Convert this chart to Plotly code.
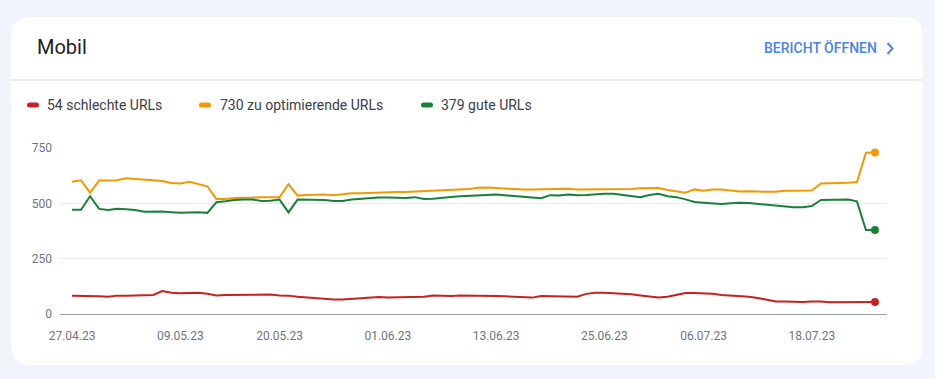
import pandas as pd
import plotly.graph_objects as go

# ---------------- data ----------------
start_date = "2023-04-27"
n_days = 90

bad_urls = [83, 83, 83, 80, 78, 83, 83, 84, 86, 86, 104, 96, 94, 96, 96, 91, 84, 86, 86, 86,
            88, 89, 88, 84, 83, 78, 74, 72, 68, 65, 65, 68, 72, 72, 77, 75, 75, 77, 78, 78,
            84, 81, 81, 84, 84, 84, 83, 81, 80, 78, 75, 74, 81, 81, 80, 78, 78, 91, 96, 96,
            94, 89, 89, 84, 80, 75, 78, 86, 95, 95, 94, 91, 86, 84, 83, 78, 72, 65, 57, 56,
            54, 54, 57, 57, 53, 53, 51, 51, 54, 54]

improve_urls = [597, 604, 548, 603, 603, 604, 613, 610, 606, 603, 601, 592, 590, 597, 588, 577,
                520, 520, 524, 524, 526, 528, 527, 528, 587, 535, 538, 540, 540, 537, 542, 545,
                546, 548, 550, 551, 551, 551, 553, 555, 558, 559, 561, 562, 565, 570, 572, 569,
                566, 563, 562, 562, 563, 566, 566, 566, 563, 563, 562, 565, 562, 562, 565, 568,
                568, 569, 560, 555, 548, 563, 557, 562, 562, 558, 553, 555, 552, 552, 552, 557,
                557, 558, 558, 590, 590, 591, 593, 596, 729, 730]

good_urls = [471, 471, 532, 475, 470, 476, 473, 470, 462, 463, 463, 460, 457, 459, 460, 457,
             505, 509, 515, 517, 517, 511, 512, 517, 459, 517, 517, 517, 515, 511, 511, 517,
             521, 524, 526, 526, 526, 524, 528, 520, 521, 526, 529, 532, 535, 536, 538, 540,
             537, 532, 529, 529, 523, 537, 535, 540, 537, 538, 541, 543, 543, 538, 534, 528,
             538, 543, 532, 528, 518, 506, 503, 500, 497, 500, 503, 501, 497, 491, 488, 485,
             482, 482, 488, 515, 515, 515, 517, 509, 379, 379]

series_names = ["54 schlechte URLs", "730 zu optimierende URLs", "379 gute URLs"]
series_colors = ["#c5221f", "#f29900", "#188038"]

x_tick_dates = ["2023-04-27", "2023-05-09", "2023-05-20", "2023-06-01",
                "2023-06-13", "2023-06-25", "2023-07-06", "2023-07-18"]
x_tick_labels = ["27.04.23", "09.05.23", "20.05.23", "01.06.23",
                 "13.06.23", "25.06.23", "06.07.23", "18.07.23"]
y_tick_values = [0, 250, 500, 750]

dates = pd.date_range(start_date, periods=n_days, freq="D")

# ---------------- geometry helpers (pixel -> paper) ----------------
W, H = 935, 379
PL, PR, PT, PB = 60, 887, 148, 314
PW, PH = PR - PL, PB - PT


def fx(x):
    return (x - PL) / PW


def fy(y):
    return (PB - y) / PH


def rounded_rect(x0, y0, x1, y1, r):
    pts = [
        ("M", (x0 + r, y0)), ("L", (x1 - r, y0)), ("Q", (x1, y0), (x1, y0 + r)),
        ("L", (x1, y1 - r)), ("Q", (x1, y1), (x1 - r, y1)), ("L", (x0 + r, y1)),
        ("Q", (x0, y1), (x0, y1 - r)), ("L", (x0, y0 + r)), ("Q", (x0, y0), (x0 + r, y0)),
    ]
    s = ""
    for p in pts:
        cmd = p[0]
        coords = " ".join(f"{fx(a):.5f},{fy(b):.5f}" for a, b in p[1:])
        s += f"{cmd} {coords} "
    return s + "Z"


fig = go.Figure()

series_values = [bad_urls, improve_urls, good_urls]
for name, vals, col in zip(series_names, series_values, series_colors):
    fig.add_trace(go.Scatter(
        x=dates, y=vals, name=name, mode="lines",
        line=dict(color=col, width=2),
        showlegend=False, hoverinfo="skip",
    ))
for name, vals, col in zip(series_names, series_values, series_colors):
    fig.add_trace(go.Scatter(
        x=[dates[-1]], y=[vals[-1]], name=name, mode="markers",
        marker=dict(color=col, size=8, opacity=1, line=dict(width=0)),
        showlegend=False, hoverinfo="skip",
    ))

shapes = []
# card
shapes.append(dict(type="path", xref="paper", yref="paper", layer="below",
                   path=rounded_rect(11, 17, 923, 365, 20),
                   fillcolor="#ffffff", line=dict(width=0)))
# separator
shapes.append(dict(type="line", xref="paper", yref="paper", layer="below",
                   x0=fx(11), x1=fx(923), y0=fy(80), y1=fy(80),
                   line=dict(color="#dadce0", width=1)))
# chevron
shapes.append(dict(type="path", xref="paper", yref="paper",
                   path=f"M {fx(887.5)},{fy(43)} L {fx(892.5)},{fy(48.5)} L {fx(887.5)},{fy(54)}",
                   line=dict(color="#4a84e9", width=2)))

annotations = [
    dict(text="Mobil", x=fx(35), y=fy(47), xref="paper", yref="paper",
         xanchor="left", yanchor="middle", showarrow=False,
         font=dict(family="Roboto", size=20, color="#202124")),
    dict(text="BERICHT ÖFFNEN", x=fx(879), y=fy(48), xref="paper", yref="paper",
         xanchor="right", yanchor="middle", showarrow=False,
         font=dict(family="Roboto", size=14, color="#4a84e9", weight=500)),
]

legend_dash_x = [27, 199, 421]
legend_text_x = [45, 218, 439]
legend_y = 105
for name, col, dx, tx in zip(series_names, series_colors, legend_dash_x, legend_text_x):
    shapes.append(dict(type="path", xref="paper", yref="paper",
                       path=rounded_rect(dx, legend_y - 2.5, dx + 12, legend_y + 2.5, 2.5),
                       fillcolor=col, line=dict(width=0)))
    annotations.append(dict(text=name, x=fx(tx), y=fy(legend_y), xref="paper", yref="paper",
                            xanchor="left", yanchor="middle", showarrow=False,
                            font=dict(family="Roboto", size=14, color="#3c4043")))

pad = pd.Timedelta(hours=32)
fig.update_layout(
    width=W, height=H,
    margin=dict(l=PL, r=W - PR, t=PT, b=H - PB, pad=0),
    paper_bgcolor="#f0f4fb",
    plot_bgcolor="rgba(0,0,0,0)",
    font=dict(family="Roboto", size=12, color="#70757a"),
    shapes=shapes,
    annotations=annotations,
    showlegend=False,
    xaxis=dict(
        type="date",
        range=[dates[0] - pad, dates[-1] + pad],
        tickvals=x_tick_dates, ticktext=x_tick_labels,
        showgrid=False, zeroline=False,
        showline=True, linecolor="#9aa0a6", linewidth=1,
        ticks="", ticklabelstandoff=11,
        tickfont=dict(family="Roboto", size=12, color="#70757a"),
        fixedrange=True,
    ),
    yaxis=dict(
        range=[0, 750],
        tickvals=y_tick_values,
        showgrid=True, gridcolor="#e8eaed", gridwidth=1,
        zeroline=False, showline=False,
        ticks="", ticklabelstandoff=7,
        tickfont=dict(family="Roboto", size=12, color="#70757a"),
        fixedrange=True,
    ),
)

fig.write_html("out.html", config={"displayModeBar": False},
               post_script="document.body.style.margin='0';document.body.style.overflow='hidden';")
